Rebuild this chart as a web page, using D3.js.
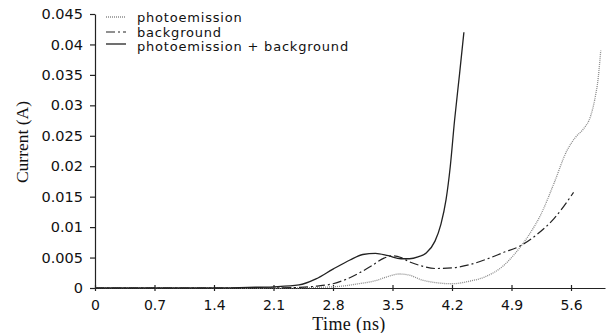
<!DOCTYPE html>
<html>
<head>
<meta charset="utf-8">
<script src="https://cdn.jsdelivr.net/npm/d3@7"></script>
<style>
  body { margin: 0; background: #fff; }
  text { fill: #111; }
</style>
</head>
<body>
<div id="viz"></div>
<script>
// time (ns) / current (A)
let timePhoto = [0, 0.7, 1.4, 2.1, 2.6, 2.9, 3.1, 3.3, 3.45, 3.58, 3.7, 3.85, 4.0, 4.2, 4.4, 4.6, 4.8, 4.95, 5.1, 5.25, 5.4, 5.55, 5.65, 5.75, 5.83, 5.88, 5.92, 5.95];
let photoemission = [0, 0, 0, 0, 0.0001, 0.0003, 0.0007, 0.0012, 0.0019, 0.0023, 0.0021, 0.0013, 0.0009, 0.0007, 0.0011, 0.0019, 0.0036, 0.0058, 0.0086, 0.0122, 0.0172, 0.0225, 0.0247, 0.0262, 0.0282, 0.031, 0.0345, 0.039];

let timeBack = [0, 1.4, 2.1, 2.4, 2.6, 2.8, 2.95, 3.1, 3.25, 3.4, 3.5, 3.6, 3.7, 3.85, 4.0, 4.2, 4.4, 4.6, 4.8, 5.0, 5.2, 5.4, 5.63];
let background = [0, 0, 0, 0.0001, 0.0003, 0.0007, 0.0014, 0.0024, 0.0036, 0.0049, 0.0053, 0.005, 0.0043, 0.0036, 0.0032, 0.0033, 0.0038, 0.0047, 0.0058, 0.0069, 0.0088, 0.0114, 0.0157];

let timeTotal = [0, 1.4, 1.8, 2.1, 2.4, 2.6, 2.8, 3.0, 3.15, 3.3, 3.45, 3.6, 3.7, 3.8, 3.9, 4.0, 4.07, 4.13, 4.18, 4.23, 4.29, 4.34];
let total = [0, 0, 0.0001, 0.0002, 0.0005, 0.0015, 0.0031, 0.0046, 0.0055, 0.0057, 0.0053, 0.0048, 0.0048, 0.0051, 0.0058, 0.0077, 0.0105, 0.0145, 0.02, 0.0275, 0.0353, 0.042];

let xTicks = [0, 0.7, 1.4, 2.1, 2.8, 3.5, 4.2, 4.9, 5.6];
let yTicks = [0, 0.005, 0.01, 0.015, 0.02, 0.025, 0.03, 0.035, 0.04, 0.045];

let legendLabels = ['photoemission', 'background', 'photoemission + background'];

let margin = { top: 14, right: 9, bottom: 45, left: 95 };
let width = 614 - margin.left - margin.right,
    height = 333 - margin.top - margin.bottom;

let svg = d3.select('#viz')
    .append('svg')
    .attr('width', 614)
    .attr('height', 333);

let g = svg.append('g')
    .attr('transform', 'translate(' + margin.left + ',' + margin.top + ')');

let x = d3.scaleLinear().domain([0, 6.0]).range([0, width]);
let y = d3.scaleLinear().domain([0, 0.045]).range([height, 0]);

let xAxis = d3.axisBottom(x)
    .tickValues(xTicks)
    .tickSize(3)
    .tickSizeOuter(0)
    .tickFormat(d => String(d));
let yAxis = d3.axisLeft(y)
    .tickValues(yTicks)
    .tickSize(5)
    .tickSizeOuter(0)
    .tickFormat(d => String(+d.toFixed(3)));

let xGuide = g.append('g')
    .attr('transform', 'translate(0,' + height + ')')
    .call(xAxis);
xGuide.selectAll('.tick line').attr('y1', -3);
xGuide.selectAll('text')
    .attr('dy', '1.15em')
    .style('font-family', '"DejaVu Sans", sans-serif')
    .style('font-size', '14px');

let yGuide = g.append('g').call(yAxis);
yGuide.selectAll('text')
    .attr('x', -12)
    .style('font-family', '"DejaVu Sans", sans-serif')
    .style('font-size', '14.5px');

g.selectAll('.domain, .tick line').attr('stroke', '#222').attr('stroke-width', 1.2);

// axis titles
svg.append('text')
    .attr('transform', 'translate(28,142) rotate(-90)')
    .attr('text-anchor', 'middle')
    .style('font-family', '"Liberation Serif", serif')
    .style('font-size', '17.5px')
    .text('Current (A)');

svg.append('text')
    .attr('x', 349)
    .attr('y', 330)
    .attr('text-anchor', 'middle')
    .style('font-family', '"Liberation Serif", serif')
    .style('font-size', '18px')
    .style('letter-spacing', '0.4px')
    .text('Time (ns)');

let styles = [
    { stroke: '#8a8a8a', width: 1.3, dash: '1,1' },
    { stroke: '#222', width: 1.2, dash: '9,3,2,3' },
    { stroke: '#222', width: 1.3, dash: null }
];
let series = [
    d3.zip(timePhoto, photoemission),
    d3.zip(timeBack, background),
    d3.zip(timeTotal, total)
];

let line = d3.line()
    .x(d => x(d[0]))
    .y(d => y(d[1]))
    .curve(d3.curveMonotoneX);

g.selectAll('path.series')
    .data(series)
    .enter()
    .append('path')
    .attr('class', 'series')
    .attr('fill', 'none')
    .attr('d', line)
    .attr('stroke', (d, i) => styles[i].stroke)
    .attr('stroke-width', (d, i) => styles[i].width)
    .attr('stroke-dasharray', (d, i) => styles[i].dash);

// legend
let legendY = [17, 32, 46];
let legend = svg.append('g');
legendLabels.forEach((label, i) => {
    legend.append('line')
        .attr('x1', 106).attr('x2', 126)
        .attr('y1', legendY[i] + (i == 2 ? -2 : 0)).attr('y2', legendY[i] + (i == 2 ? -2 : 0))
        .attr('stroke', styles[i].stroke)
        .attr('stroke-width', styles[i].width)
        .attr('stroke-dasharray', styles[i].dash);
    legend.append('text')
        .attr('x', 137)
        .attr('y', legendY[i])
        .attr('dy', '0.35em')
        .style('font-family', '"DejaVu Sans", sans-serif')
        .style('font-size', '13px')
        .style('letter-spacing', '0.8px')
        .text(label);
});
</script>
</body>
</html>
